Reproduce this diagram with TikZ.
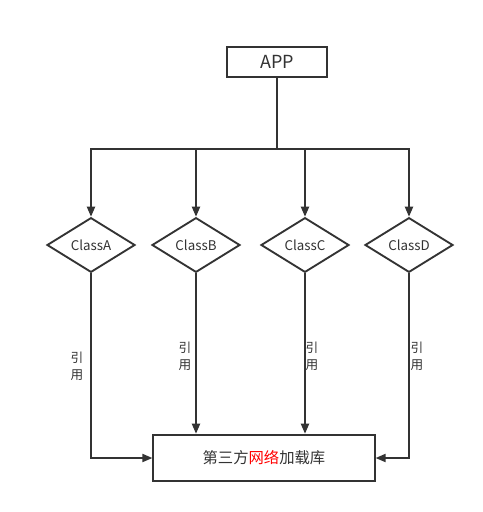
\documentclass[tikz,border=0pt]{standalone}
\usepackage{fontspec}
\setmainfont{Noto Sans CJK SC}
\usetikzlibrary{shapes.geometric,arrows.meta}
\definecolor{linegray}{HTML}{333333}
\tikzset{
	box/.style={draw,rectangle,fill=white,text=linegray},
	classnode/.style={draw,diamond,fill=white,text=linegray,inner sep=0pt,
		minimum width=66pt,minimum height=41pt,aspect=1.6,font=\fontsize{10}{11}\selectfont},
	reflabel/.style={align=center,text=linegray,inner sep=0pt,font=\fontsize{9.5}{12.5}\selectfont},
	arr/.style={-{Triangle[width=6pt,length=7.5pt]}}
}
\begin{document}
\begin{tikzpicture}[x=0.75pt,y=-0.75pt,draw=linegray,line width=1.4pt]
	\useasboundingbox (0,0) rectangle (483,512);
	\node[box,minimum width=75pt,minimum height=22pt,font=\fontsize{13.5}{15}\selectfont] (app) at (277,62) {APP};
	\node[classnode] (classA) at (91,245) {ClassA};
	\node[classnode] (classB) at (196,245) {ClassB};
	\node[classnode] (classC) at (305,245) {ClassC};
	\node[classnode] (classD) at (409,245) {ClassD};
	\node[box,minimum width=166pt,minimum height=35pt,font=\fontsize{11.5}{13}\selectfont] (lib) at (264,458) {第三方\textcolor{red}{网络}加载库};
	\path (app.south) ++ (0,71) coordinate (split);
	% top branches
	\draw (app) -- (split);
	\draw[arr] (split) -| (classA.north);
	\draw[arr] (split) -| (classB.north);
	\draw[arr] (split) -| (classC.north);
	\draw[arr] (split) -| (classD.north);
	% references
	\draw[arr] (classA.south) |- (lib.west);
	\draw[arr] (classB.south) -- (classB.south |- lib.north);
	\draw[arr] (classC.south) -- (classC.south |- lib.north);
	\draw[arr] (classD.south) |- (lib.east);
	\node[reflabel] (refA) at (77,366) {引\\用};
	\node[reflabel] (refB) at (185,356) {引\\用};
	\node[reflabel] (refC) at (312,356) {引\\用};
	\node[reflabel] (refD) at (417,356) {引\\用};
\end{tikzpicture}
\end{document}
